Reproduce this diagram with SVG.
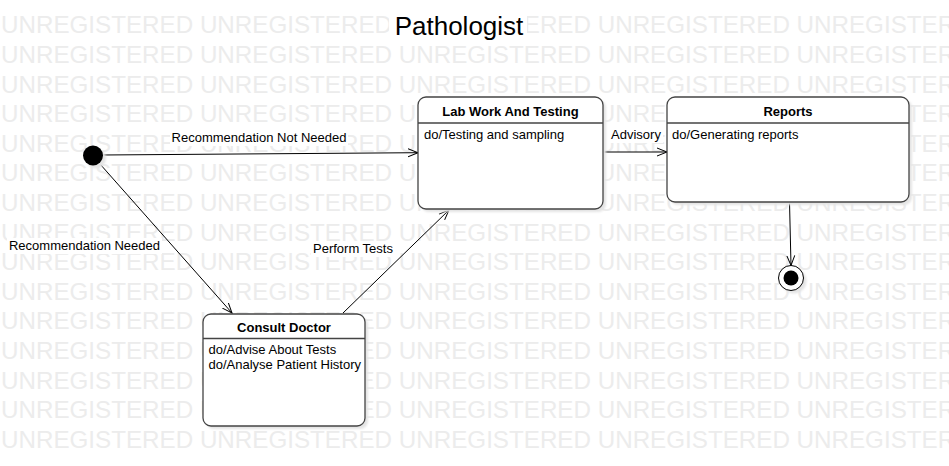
<svg xmlns="http://www.w3.org/2000/svg" width="949" height="466" viewBox="0 0 949 466">
<style>
.wm{font-family:"Liberation Sans",Arial,sans-serif;font-size:24.2px;fill:#ececec}
.title{font-family:"Liberation Sans",Arial,sans-serif;font-size:26px;fill:#000}
.nt{font-family:"Liberation Sans",Arial,sans-serif;font-size:13px;font-weight:bold;fill:#000;text-anchor:middle}
.nb{font-family:"Liberation Sans",Arial,sans-serif;font-size:13px;fill:#000}
.lbl{font-family:"Liberation Sans",Arial,sans-serif;font-size:13px;fill:#000;text-anchor:middle}
.box{fill:#fff;stroke:#444;stroke-width:1.3}
.sep{stroke:#444;stroke-width:1.3}
.shadow{fill:#e4e4e4;filter:url(#blur)}
.edge{fill:none;stroke:#000;stroke-width:1;marker-end:url(#arrow)}
.bg{fill:#fff}
</style>
<defs>
<filter id="blur" x="-10%" y="-10%" width="120%" height="120%"><feGaussianBlur stdDeviation="1"/></filter>
<marker id="arrow" markerUnits="userSpaceOnUse" markerWidth="12" markerHeight="12" refX="10" refY="5" orient="auto">
<path d="M0,1 L10,5 L0,9" fill="none" stroke="#000" stroke-width="1"/>
</marker>
</defs>
<rect width="949" height="466" fill="#fff"/>
<g id="watermark">
<text class="wm" x="1" y="33.3">UNREGISTERED UNREGISTERED UNREGISTERED UNREGISTERED UNREGISTERED</text>
<text class="wm" x="1" y="62.9">UNREGISTERED UNREGISTERED UNREGISTERED UNREGISTERED UNREGISTERED</text>
<text class="wm" x="1" y="92.5">UNREGISTERED UNREGISTERED UNREGISTERED UNREGISTERED UNREGISTERED</text>
<text class="wm" x="1" y="122.1">UNREGISTERED UNREGISTERED UNREGISTERED UNREGISTERED UNREGISTERED</text>
<text class="wm" x="1" y="151.7">UNREGISTERED UNREGISTERED UNREGISTERED UNREGISTERED UNREGISTERED</text>
<text class="wm" x="1" y="181.3">UNREGISTERED UNREGISTERED UNREGISTERED UNREGISTERED UNREGISTERED</text>
<text class="wm" x="1" y="210.9">UNREGISTERED UNREGISTERED UNREGISTERED UNREGISTERED UNREGISTERED</text>
<text class="wm" x="1" y="240.5">UNREGISTERED UNREGISTERED UNREGISTERED UNREGISTERED UNREGISTERED</text>
<text class="wm" x="1" y="270.1">UNREGISTERED UNREGISTERED UNREGISTERED UNREGISTERED UNREGISTERED</text>
<text class="wm" x="1" y="299.7">UNREGISTERED UNREGISTERED UNREGISTERED UNREGISTERED UNREGISTERED</text>
<text class="wm" x="1" y="329.3">UNREGISTERED UNREGISTERED UNREGISTERED UNREGISTERED UNREGISTERED</text>
<text class="wm" x="1" y="358.9">UNREGISTERED UNREGISTERED UNREGISTERED UNREGISTERED UNREGISTERED</text>
<text class="wm" x="1" y="388.5">UNREGISTERED UNREGISTERED UNREGISTERED UNREGISTERED UNREGISTERED</text>
<text class="wm" x="1" y="418.1">UNREGISTERED UNREGISTERED UNREGISTERED UNREGISTERED UNREGISTERED</text>
<text class="wm" x="1" y="447.7">UNREGISTERED UNREGISTERED UNREGISTERED UNREGISTERED UNREGISTERED</text>
</g>
<g id="title">
<rect class="bg" x="389" y="9" width="138" height="33"/>
<text class="title" x="459" y="35" text-anchor="middle">Pathologist</text>
</g>
<g id="connectors">
<path class="edge" d="M102,155 L418,152.7"/>
<path class="edge" d="M100,164 L232,313"/>
<path class="edge" d="M343,313 L449,210"/>
<path class="edge" d="M603,152 L667,152"/>
<path class="edge" d="M789.5,202 L791,265.5"/>
<rect class="bg" x="170" y="130" width="178" height="16"/>
<text class="lbl" x="259" y="142">Recommendation Not Needed</text>
<rect class="bg" x="7" y="238" width="155" height="16"/>
<text class="lbl" x="84.5" y="250">Recommendation Needed</text>
<rect class="bg" x="311" y="241" width="84" height="16"/>
<text class="lbl" x="353" y="253">Perform Tests</text>
<rect class="bg" x="609" y="127" width="54" height="16"/>
<text class="lbl" x="636" y="139">Advisory</text>
</g>
<g id="initial">
<circle class="shadow" cx="96" cy="158.5" r="10"/>
<circle cx="93" cy="155.5" r="10" fill="#000"/>
</g>
<g id="lab">
<rect class="shadow" x="421" y="100" width="185" height="112" rx="8"/>
<rect class="box" x="418" y="97" width="185" height="112" rx="8"/>
<line class="sep" x1="418" y1="123" x2="603" y2="123"/>
<text class="nt" x="510.5" y="115.5">Lab Work And Testing</text>
<text class="nb" x="424" y="138.5">do/Testing and sampling</text>
</g>
<g id="reports">
<rect class="shadow" x="670" y="100" width="242" height="105" rx="8"/>
<rect class="box" x="667" y="97" width="242" height="105" rx="8"/>
<line class="sep" x1="667" y1="123" x2="909" y2="123"/>
<text class="nt" x="788" y="115.5">Reports</text>
<text class="nb" x="672" y="138.5">do/Generating reports</text>
</g>
<g id="consult">
<rect class="shadow" x="206" y="317" width="162" height="112" rx="8"/>
<rect class="box" x="203" y="314" width="162" height="112" rx="8"/>
<line class="sep" x1="203" y1="338.5" x2="365" y2="338.5"/>
<text class="nt" x="284" y="331.5">Consult Doctor</text>
<text class="nb" x="208.5" y="353.5">do/Advise About Tests</text>
<text class="nb" x="208.5" y="369">do/Analyse Patient History</text>
</g>
<g id="final">
<circle class="shadow" cx="794" cy="281" r="12.5"/>
<circle cx="791" cy="278" r="12.5" fill="#fff" stroke="#000" stroke-width="1"/>
<circle cx="791" cy="278" r="7.5" fill="#000"/>
</g>
</svg>
